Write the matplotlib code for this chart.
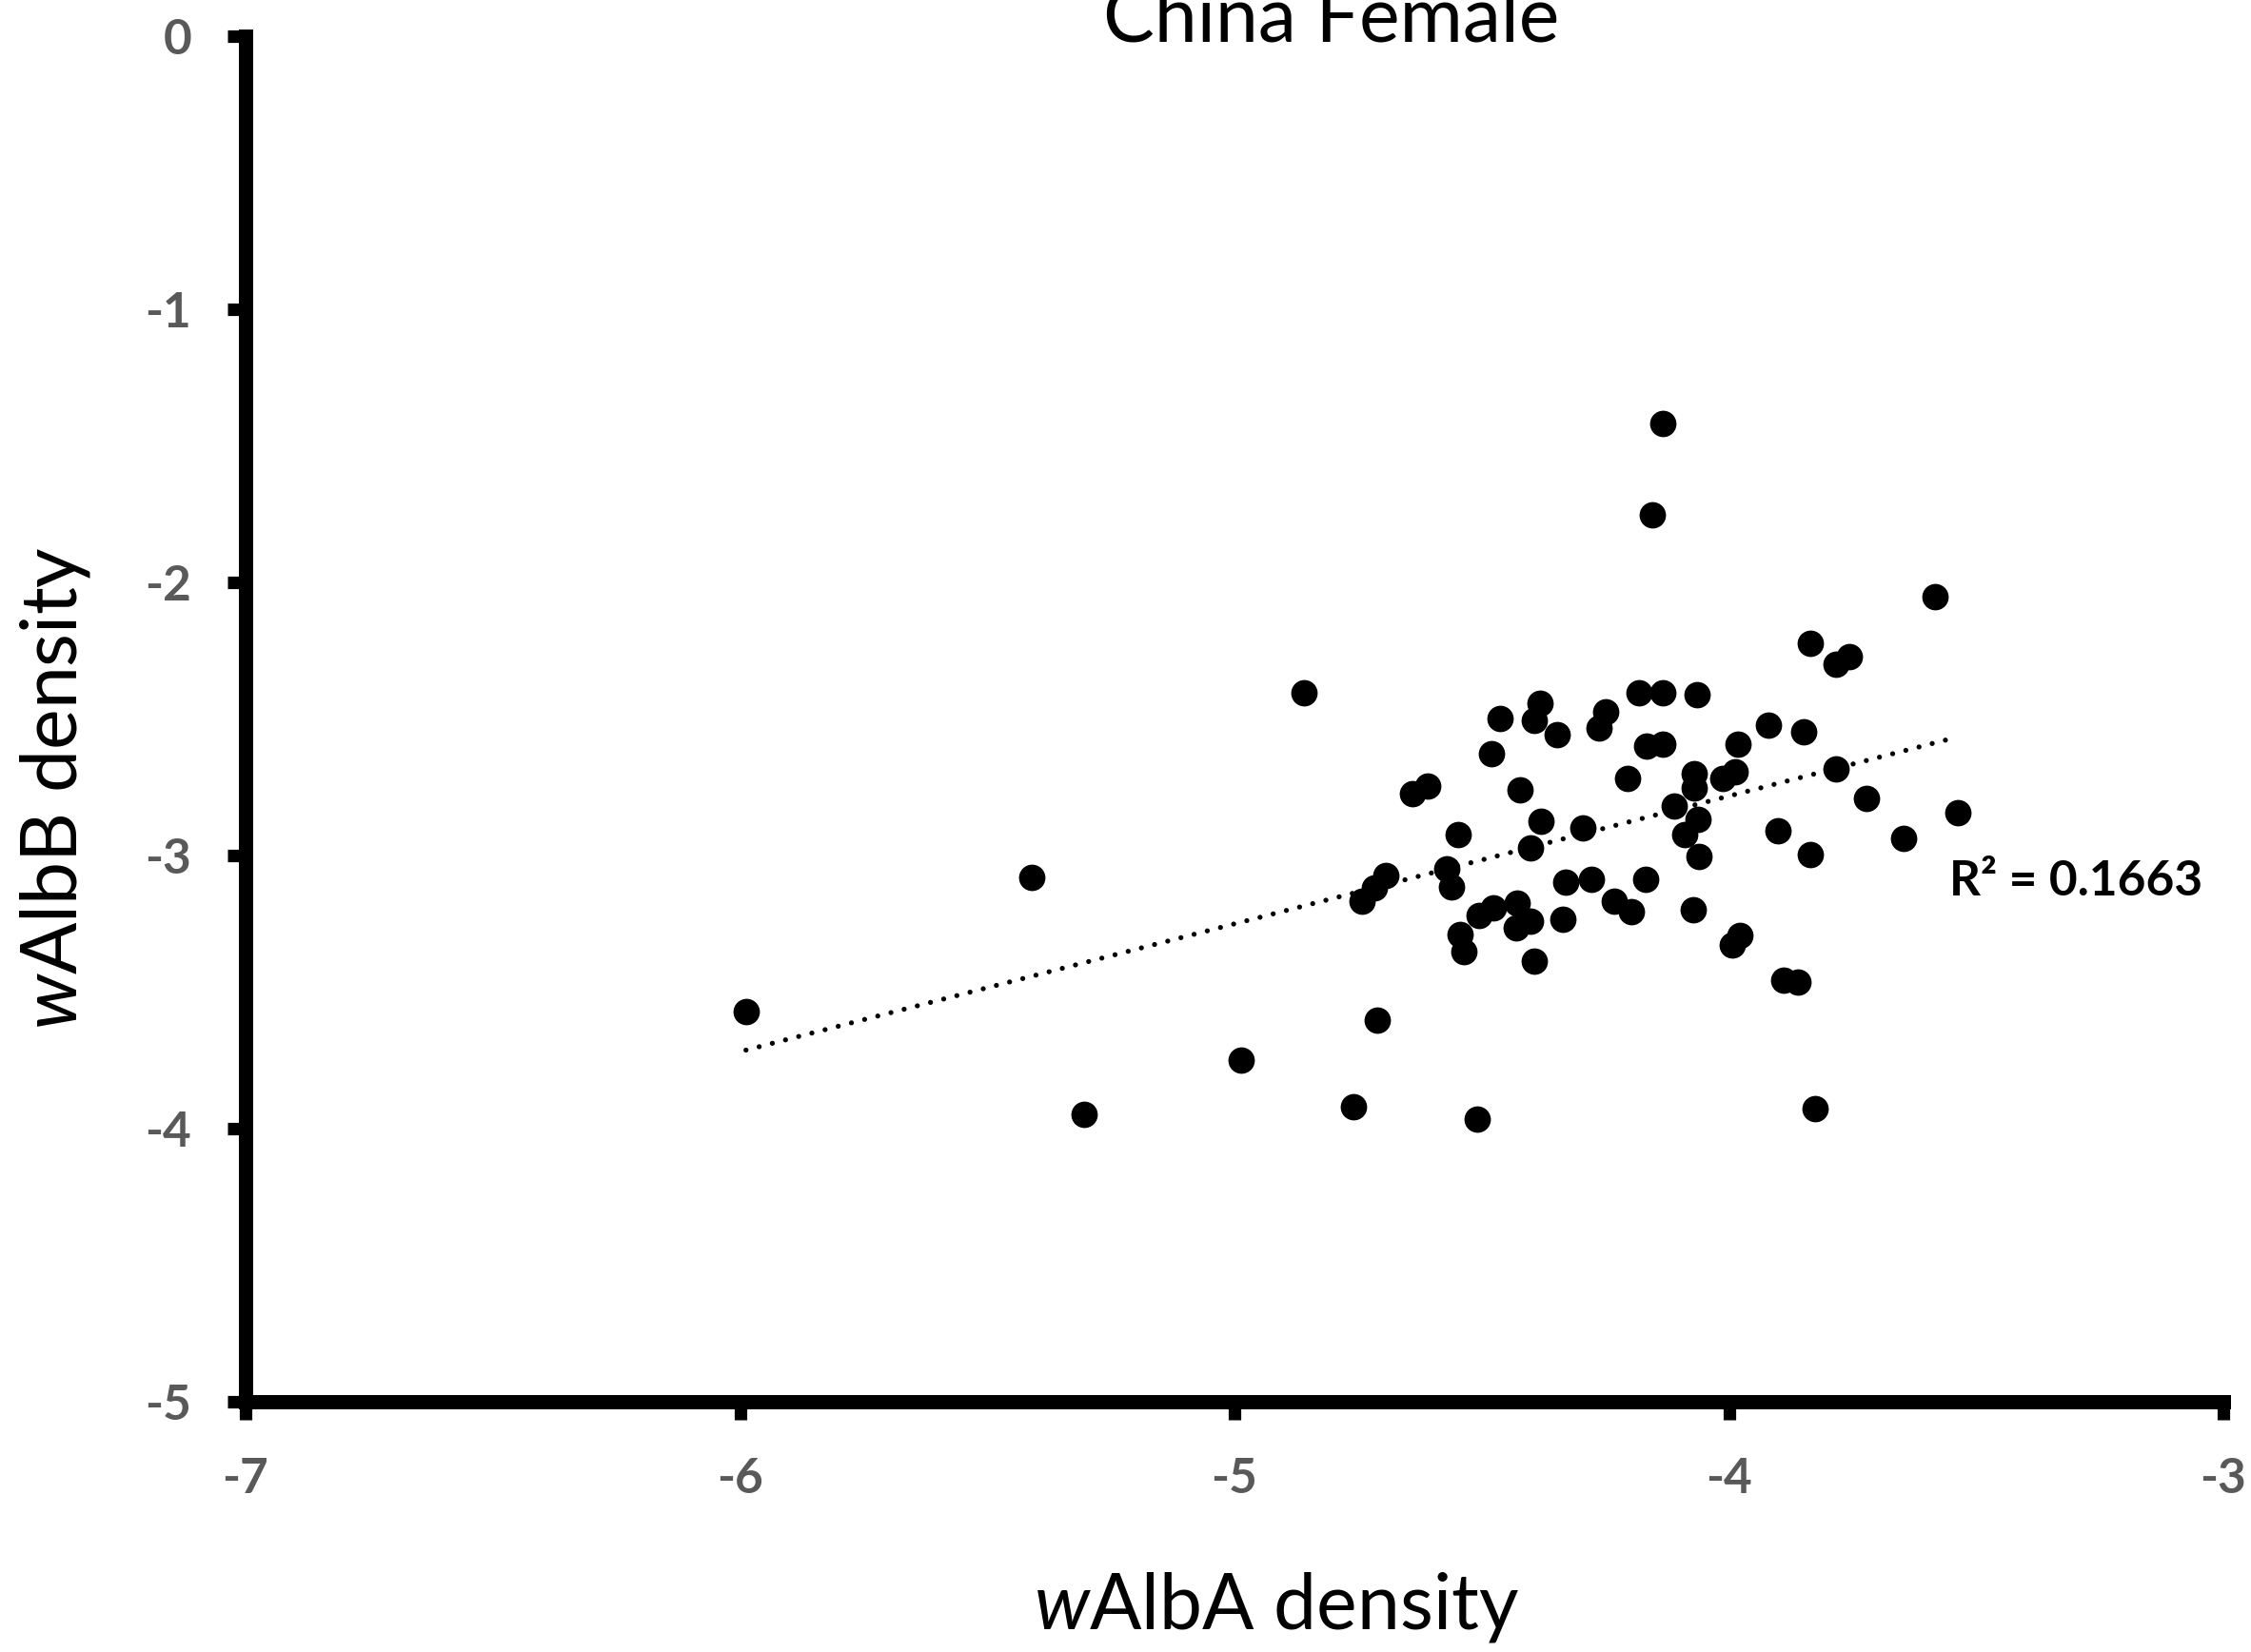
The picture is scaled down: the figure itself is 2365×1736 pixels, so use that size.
import numpy as np
import matplotlib
matplotlib.use("Agg")
import matplotlib.pyplot as plt

plt.rcParams['font.family'] = ['Lato', 'DejaVu Sans']
plt.rcParams['mathtext.fontset'] = 'custom'
plt.rcParams['mathtext.it'] = 'Lato:italic'
plt.rcParams['mathtext.rm'] = 'Lato'
plt.rcParams['axes.unicode_minus'] = False

# log10 densities per female (China population)
walba = [-4.134, -4.154, -4.859, -4.462, -4.382, -4.394, -4.348, -4.481, -4.249, -4.263,
         -4.181, -4.134, -4.064, -4.167, -4.134, -4.205, -4.070, -4.070, -4.609, -4.641,
         -4.423, -4.111, -3.583, -3.836, -3.783, -3.757, -3.920, -3.849, -3.982, -4.013,
         -3.987, -3.783, -3.721, -3.537, -4.380, -4.547, -4.296, -4.401, -4.063, -4.090,
         -4.060, -4.694, -4.717, -4.742, -4.571, -4.561, -4.477, -4.506, -4.544, -4.537,
         -4.428, -4.401, -4.430, -4.394, -4.335, -4.330, -4.278, -4.232, -4.197, -4.168,
         -4.072, -4.712, -4.760, -4.509, -3.901, -3.835, -3.646, -3.977, -3.993, -3.889,
         -3.861, -3.825, -5.988, -5.410, -5.305, -4.987]
walbb = [-1.418, -1.752, -2.403, -2.498, -2.444, -2.504, -2.556, -2.626, -2.475, -2.533,
         -2.403, -2.403, -2.411, -2.599, -2.591, -2.719, -2.701, -2.753, -2.746, -2.774,
         -2.760, -2.819, -2.051, -2.223, -2.299, -2.272, -2.524, -2.548, -2.591, -2.719,
         -2.692, -2.684, -2.792, -2.843, -2.874, -2.924, -2.899, -2.971, -2.868, -2.924,
         -3.003, -3.073, -3.118, -3.167, -3.050, -3.114, -3.192, -3.218, -3.288, -3.352,
         -3.174, -3.241, -3.265, -3.387, -3.232, -3.097, -3.087, -3.166, -3.207, -3.087,
         -3.199, -3.602, -3.919, -3.964, -2.910, -2.995, -2.936, -3.294, -3.329, -3.456,
         -3.464, -3.927, -3.570, -3.079, -3.946, -3.748]
r2_text = "R\u00b2 = 0.1663"

x = np.array(walba)
y = np.array(walbb)

W, H = 2365, 1736
fig = plt.figure(figsize=(W / 100, H / 100), dpi=100)
ax = fig.add_axes([258 / W, 1 - 1473 / H, (2336 - 258) / W, (1473 - 38) / H])

ax.scatter(x, y, s=400, color='black', linewidths=0, zorder=3)

# linear trendline over the data range
slope, intercept = np.polyfit(x, y, 1)
xs = np.array([x.min(), x.max()])
ax.plot(xs, slope * xs + intercept, color='black', linewidth=3.8,
        linestyle=(0, (0.01, 2.7)), dash_capstyle='round', zorder=2)

ax.set_xlim(-7, -3)
ax.set_ylim(-5, 0)
ax.set_xticks(range(-7, -2))
ax.set_yticks(range(-5, 1))

for side in ['top', 'right']:
    ax.spines[side].set_visible(False)
for side in ['left', 'bottom']:
    ax.spines[side].set_linewidth(10.8)
    ax.spines[side].set_color('black')

ax.tick_params(axis='both', direction='out', length=14, width=9.5, color='black',
               labelsize=37, labelcolor='#595959')
ax.tick_params(axis='x', pad=28)
ax.tick_params(axis='y', pad=27)
for lab in ax.get_xticklabels() + ax.get_yticklabels():
    lab.set_fontweight('bold')

fig.text(1399 / W, 1 - 43 / H, "China Female", fontsize=58, ha='center', va='baseline')
fig.text(1341 / W, 1 - 1712 / H, r"$\mathit{w}$AlbA density", fontsize=58,
         ha='center', va='baseline')
fig.text(58 / W, 1 - 828 / H, r"$\mathit{w}$AlbB density", fontsize=58,
         rotation=90, ha='center', va='center')
fig.text(2048 / W, 1 - 926 / H, r2_text, fontsize=37, fontweight='bold',
         ha='left', va='center')

fig.savefig("out.png", dpi=100, facecolor='white')
